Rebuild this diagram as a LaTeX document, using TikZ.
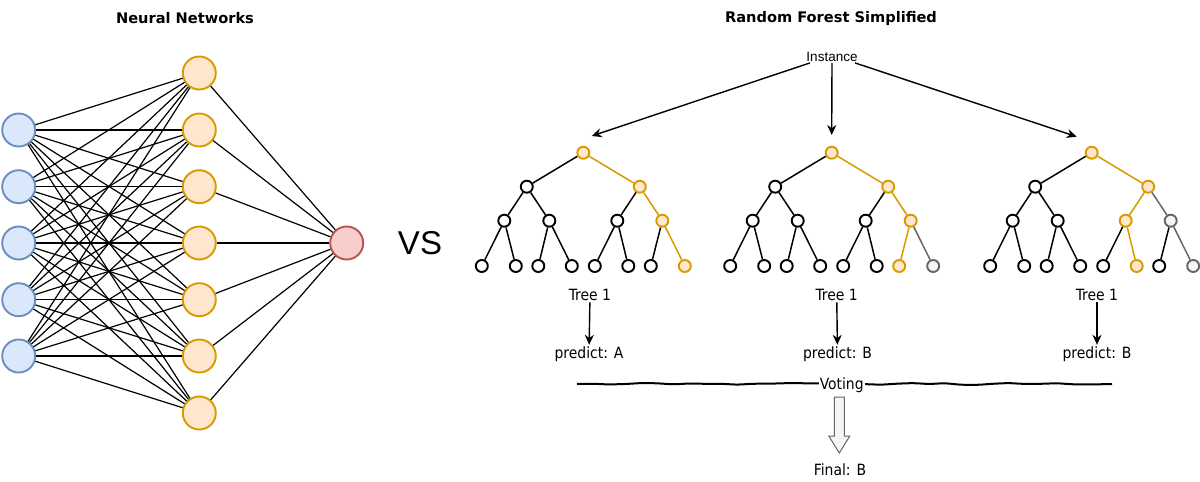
\documentclass[tikz,border=0pt]{standalone}
\usepackage{fontspec}
\setmainfont{DejaVu Sans}
\newfontfamily\condf{DejaVu Sans Condensed}
\newfontfamily\helv{Liberation Sans}
\usetikzlibrary{arrows.meta,decorations.pathmorphing}
\definecolor{blS}{HTML}{6C8EBF}
\definecolor{blF}{HTML}{DAE8FC}
\definecolor{orS}{HTML}{D79B00}
\definecolor{orF}{HTML}{FFE6CC}
\definecolor{rdS}{HTML}{B85450}
\definecolor{rdF}{HTML}{F8CECC}
\definecolor{grS}{HTML}{666666}
\definecolor{grF}{HTML}{F5F5F5}
\tikzset{
  nnin/.style={circle,draw=blS,fill=blF,line width=1.9pt,minimum size=33pt,inner sep=0pt},
  nnhid/.style={circle,draw=orS,fill=orF,line width=1.9pt,minimum size=33pt,inner sep=0pt},
  nnout/.style={circle,draw=rdS,fill=rdF,line width=1.9pt,minimum size=33pt,inner sep=0pt},
  nnedge/.style={draw=black,line width=1.2pt},
  tn/.style={circle,draw=black,fill=white,line width=1.9pt,minimum size=12pt,inner sep=0pt},
  te/.style={draw=black,line width=1.5pt},
  hl/.style={draw=orS,fill=orF},
  gr/.style={draw=grS,fill=grF},
  hle/.style={draw=orS},
  gre/.style={draw=grS},
  title/.style={font=\bfseries\fontsize{14.6}{17}\selectfont},
  lab/.style={font=\condf\fontsize{15.5}{18}\selectfont,inner sep=1.5pt},
  arr/.style={draw=black,line width=1.4pt,-{Stealth[length=10pt,width=9pt]}},
  rough/.style={draw=black,line width=2pt,decorate,decoration={random steps,segment length=16pt,amplitude=1pt},rounded corners=5pt},
  blockarr/.style={draw=grS,fill=grF,line width=1pt,line join=miter},
  % tree 1 highlights
  t1-r/.style=hl, t1-b/.style=hl, t1-bb/.style=hl, t1-bbb/.style=hl,
  t1-e-b/.style=hle, t1-e-bb/.style=hle, t1-e-bbb/.style=hle,
  % tree 2 highlights
  t2-r/.style=hl, t2-b/.style=hl, t2-bb/.style=hl, t2-bba/.style=hl,
  t2-e-b/.style=hle, t2-e-bb/.style=hle, t2-e-bba/.style=hle,
  t2-bbb/.style=gr, t2-e-bbb/.style=gre,
  % tree 3 highlights
  t3-r/.style=hl, t3-b/.style=hl, t3-ba/.style=hl, t3-bab/.style=hl,
  t3-e-b/.style=hle, t3-e-ba/.style=hle, t3-e-bab/.style=hle,
  t3-bb/.style=gr, t3-e-bb/.style=gre, t3-bbb/.style=gr, t3-e-bbb/.style=gre,
}
\newcommand\rftree[2]{%
  \node[tn,#1-r/.try] (#1-r) at (#2,152.7) {};
  \node[tn,#1-a/.try] (#1-a) at ({#2-56.5},186.7) {};
  \node[tn,#1-b/.try] (#1-b) at ({#2+56.5},186.7) {};
  \node[tn,#1-aa/.try] (#1-aa) at ({#2-79},220.7) {};
  \node[tn,#1-ab/.try] (#1-ab) at ({#2-34},220.7) {};
  \node[tn,#1-ba/.try] (#1-ba) at ({#2+34},220.7) {};
  \node[tn,#1-bb/.try] (#1-bb) at ({#2+79},220.7) {};
  \node[tn,#1-aaa/.try] (#1-aaa) at ({#2-101.5},266) {};
  \node[tn,#1-aab/.try] (#1-aab) at ({#2-67.5},266) {};
  \node[tn,#1-aba/.try] (#1-aba) at ({#2-45},266) {};
  \node[tn,#1-abb/.try] (#1-abb) at ({#2-11.5},266) {};
  \node[tn,#1-baa/.try] (#1-baa) at ({#2+11.5},266) {};
  \node[tn,#1-bab/.try] (#1-bab) at ({#2+45},266) {};
  \node[tn,#1-bba/.try] (#1-bba) at ({#2+67.5},266) {};
  \node[tn,#1-bbb/.try] (#1-bbb) at ({#2+101.5},266) {};
  \draw[te,#1-e-a/.try] (#1-r) -- (#1-a);
  \draw[te,#1-e-b/.try] (#1-r) -- (#1-b);
  \draw[te,#1-e-aa/.try] (#1-a) -- (#1-aa);
  \draw[te,#1-e-ab/.try] (#1-a) -- (#1-ab);
  \draw[te,#1-e-ba/.try] (#1-b) -- (#1-ba);
  \draw[te,#1-e-bb/.try] (#1-b) -- (#1-bb);
  \draw[te,#1-e-aaa/.try] (#1-aa) -- (#1-aaa);
  \draw[te,#1-e-aab/.try] (#1-aa) -- (#1-aab);
  \draw[te,#1-e-aba/.try] (#1-ab) -- (#1-aba);
  \draw[te,#1-e-abb/.try] (#1-ab) -- (#1-abb);
  \draw[te,#1-e-baa/.try] (#1-ba) -- (#1-baa);
  \draw[te,#1-e-bab/.try] (#1-ba) -- (#1-bab);
  \draw[te,#1-e-bba/.try] (#1-bb) -- (#1-bba);
  \draw[te,#1-e-bbb/.try] (#1-bb) -- (#1-bbb);
}
\begin{document}
\begin{tikzpicture}[x=1pt,y=-1pt]
\useasboundingbox (0,0) rectangle (1200,482);
\fill[white] (0,0) rectangle (1200,482);

% ---------- Neural network ----------
\node[title] (nntitle) at (185,18) {Neural Networks};
\foreach \i/\yy in {1/130,2/186.7,3/243,4/299.7,5/356}
  \node[nnin] (in\i) at (18.7,\yy) {};
\foreach \j/\yy in {1/73,2/130,3/186.7,4/243,5/299.7,6/356,7/413}
  \node[nnhid] (h\j) at (199.3,\yy) {};
\node[nnout] (out) at (346.7,243) {};
\foreach \i in {1,...,5}
  \foreach \j in {1,...,7}
    \draw[nnedge] (in\i) -- (h\j);
\foreach \j in {1,...,7}
  \draw[nnedge] (h\j) -- (out);

\node[font=\helv\fontsize{33}{38}\selectfont] (vs) at (420,243) {VS};

% ---------- Random forest ----------
\node[title] (rftitle) at (831,18) {Random Forest Simplified};
\node[font=\helv\fontsize{13.5}{16}\selectfont,inner sep=1pt] (inst) at (832,57) {Instance};

\rftree{t1}{583.3}
\rftree{t2}{831.7}
\rftree{t3}{1091.7}

\coordinate (t1-in) at (591.7,136);
\coordinate (t2-in) at (831.7,135);
\coordinate (t3-in) at (1076.7,136.7);
\draw[arr] ([xshift=-22pt]inst.south) -- (t1-in);
\draw[arr] (inst.south) -- (t2-in);
\draw[arr] ([xshift=23pt]inst.south) -- (t3-in);

\node[lab] (t1-lab) at (590,295) {Tree 1};
\node[lab] (t2-lab) at (836.7,295) {Tree 1};
\node[lab] (t3-lab) at (1097,295) {Tree 1};
\node[lab] (t1-p) at (589,354) {predict: A};
\node[lab] (t2-p) at (837.5,354) {predict: B};
\node[lab] (t3-p) at (1097,354) {predict: B};
\draw[arr] (t1-lab) -- (t1-p);
\draw[arr] (t2-lab) -- (t2-p);
\draw[arr] (t3-lab) -- (t3-p);

% ---------- Voting ----------
\pgfmathsetseed{7}
\coordinate (vl) at (577,384);
\coordinate (vr) at (1112,384);
\draw[rough] (vl) -- (vr);
\node[lab,fill=white,inner sep=1pt] (vote) at (841.7,385) {Voting};
\node[lab] (final) at (840,470) {Final: B};
\coordinate (ba) at (839.3,397);
\draw[blockarr] (ba) ++(-5,0) -- ++(10,0) -- ++(0,39) -- ++(5.5,0)
  -- ++(-10.5,17) -- ++(-10.5,-17) -- ++(5.5,0) -- cycle;
\end{tikzpicture}
\end{document}
